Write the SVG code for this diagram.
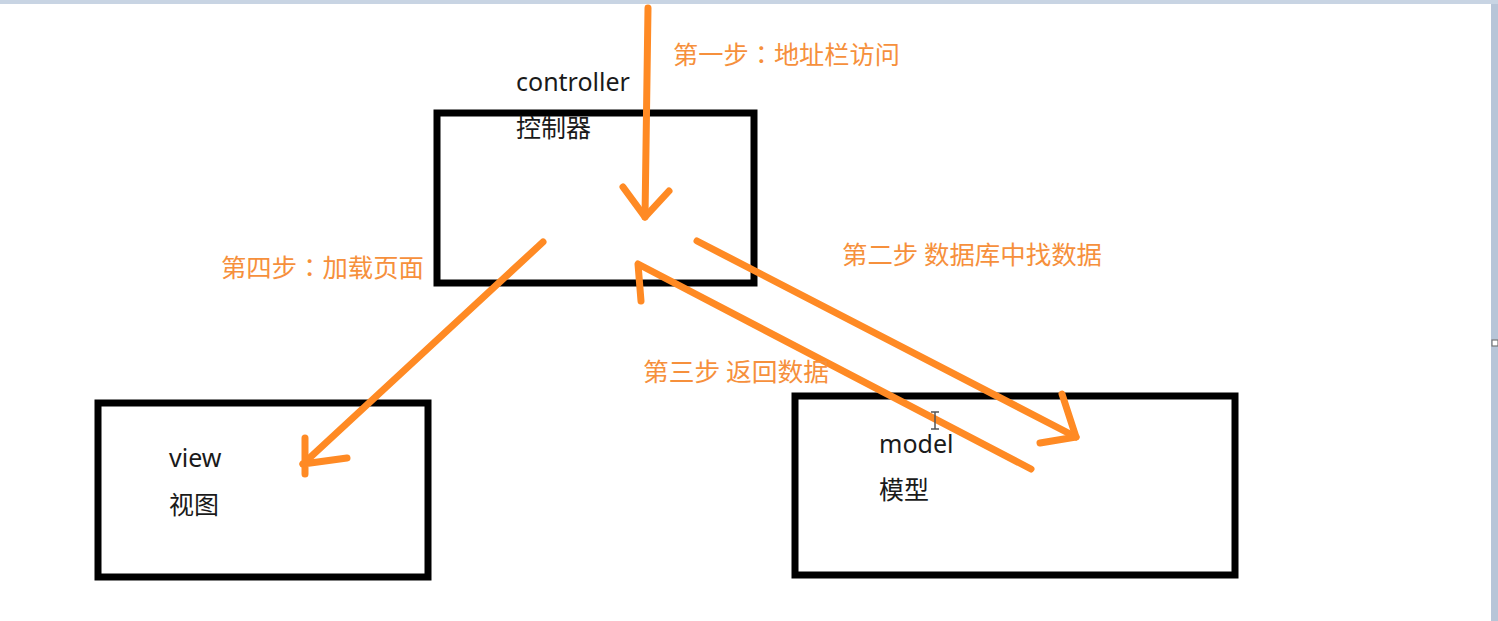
<svg xmlns="http://www.w3.org/2000/svg" width="1498" height="621" viewBox="0 0 1498 621">
  <style>
    .box { fill: none; stroke: #000; stroke-width: 7; }
    .lbl { font-family: "Noto Sans", "Noto Sans CJK SC", sans-serif; font-size: 25px; fill: #1a1a1a; }
    .step { font-family: "Noto Sans CJK SC", sans-serif; font-size: 25px; fill: #F6903C; }
    .colon { font-family: "Noto Sans CJK JP", "Noto Sans CJK SC", sans-serif; }
    .arr { fill: none; stroke: #FF8A24; stroke-width: 7; stroke-linecap: round; stroke-linejoin: round; }
  </style>
  <rect x="0" y="0" width="1498" height="621" fill="#ffffff"/>
  <rect x="0" y="0" width="1498" height="4" fill="#C8D4E3"/>
  <rect x="1491" y="4" width="7" height="617" fill="#B7C5D8"/>
  <rect x="1492" y="340" width="6" height="6" fill="#ffffff" stroke="#777" stroke-width="1.2"/>

  <g id="controller">
    <rect class="box" x="437" y="113" width="317" height="170"/>
    <text class="lbl" x="516" y="91">controller</text>
    <text class="lbl" x="516" y="137">控制器</text>
  </g>
  <g id="view">
    <rect class="box" x="98" y="403" width="330" height="174"/>
    <text class="lbl" x="169" y="467">view</text>
    <text class="lbl" x="169" y="514">视图</text>
  </g>
  <g id="model">
    <rect class="box" x="795" y="396" width="440" height="179"/>
    <text class="lbl" x="879" y="453">model</text>
    <text class="lbl" x="879" y="499">模型</text>
  </g>

  <g id="connectors">
    <path class="arr" d="M648 8 L645 217"/>
    <path class="arr" d="M623 187 L645 217 L669 191"/>
    <path class="arr" d="M543 242 L303 464"/>
    <path class="arr" d="M305 438 L305 474 M303 464 L347 458"/>
    <path class="arr" d="M697 241 L1076 437"/>
    <path class="arr" d="M1062 394 L1076 437 L1040 443"/>
    <path class="arr" d="M1031 469 L638 264 L641 301"/>
  </g>

  <g id="labels">
    <text class="step" x="673" y="64" textLength="227" lengthAdjust="spacingAndGlyphs">第一步<tspan class="colon">：</tspan>地址栏访问</text>
    <text class="step" x="842" y="264" textLength="260" lengthAdjust="spacingAndGlyphs">第二步 数据库中找数据</text>
    <text class="step" x="643" y="381" textLength="186" lengthAdjust="spacingAndGlyphs">第三步 返回数据</text>
    <text class="step" x="221" y="277" textLength="203" lengthAdjust="spacingAndGlyphs">第四步<tspan class="colon">：</tspan>加载页面</text>
  </g>

  <path d="M931 412 L939 412 M935 412 L935 429 M931 429 L939 429" stroke="#555" stroke-width="1.5" fill="none"/>
</svg>
